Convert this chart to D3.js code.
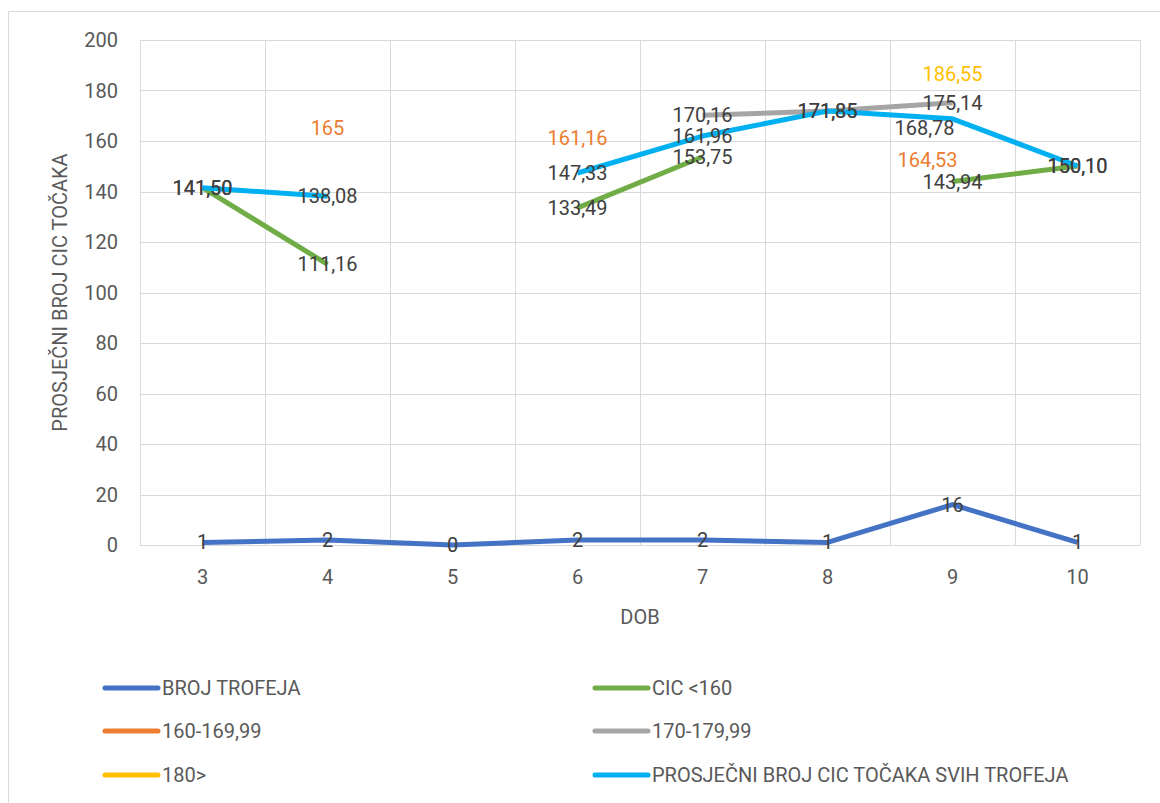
<!DOCTYPE html>
<html>
<head>
<meta charset="utf-8">
<script src="https://cdn.jsdelivr.net/npm/d3@7"></script>
<style>
  html, body { margin: 0; padding: 0; background: #fff; }
  svg { display: block; }
  text { font-family: "Roboto", "Liberation Sans", sans-serif; }
</style>
</head>
<body>
<svg id="chart" width="1160" height="803"></svg>
<script>
// ---- data ----
const categories = ["3", "4", "5", "6", "7", "8", "9", "10"];
const brojTrofeja = [1, 2, 0, 2, 2, 1, 16, 1];
const cicUnder160 = [141.50, 111.16, null, 133.49, 153.75, null, 143.94, 150.10];
const cic160to169 = [null, 165, null, 161.16, null, null, 164.53, null];
const cic170to179 = [null, null, null, null, 170.16, 171.85, 175.14, null];
const cic180plus = [null, null, null, null, null, null, 186.55, null];
const prosjecni = [141.50, 138.08, null, 147.33, 161.96, 171.85, 168.78, 150.10];
const yTicks = [0, 20, 40, 60, 80, 100, 120, 140, 160, 180, 200];

const series = [
  { name: "BROJ TROFEJA", values: brojTrofeja, color: "#4472C4", labelColor: "#404040" },
  { name: "CIC <160", values: cicUnder160, color: "#70AD47", labelColor: "#404040" },
  { name: "160-169,99", values: cic160to169, color: "#ED7D31", labelColor: "#ED7D31" },
  { name: "170-179,99", values: cic170to179, color: "#A5A5A5", labelColor: "#404040" },
  { name: "180>", values: cic180plus, color: "#FFC000", labelColor: "#FFC000" },
  { name: "PROSJEČNI BROJ CIC TOČAKA SVIH TROFEJA", values: prosjecni, color: "#00B0F0", labelColor: "#404040" }
];
// manual label nudges (series index, category index) -> [dx, dy]
const labelNudge = { "5_6": [-28, 9], "2_6": [-25, 30] };

const FS = 20;
const svg = d3.select("#chart");
const margin = { left: 140, right: 20, top: 40, bottom: 258 };
const W = 1160, H = 803;

// outer frame
svg.append("path")
  .attr("d", `M8.5,803 V11.5 H1160`)
  .attr("fill", "none").attr("stroke", "#D9D9D9").attr("stroke-width", 1);

const x = d3.scaleBand().domain(categories).range([margin.left, W - margin.right]);
const y = d3.scaleLinear().domain([0, 200]).range([H - margin.bottom, margin.top]);

const g = svg.append("g");
// horizontal gridlines
g.selectAll(".hg").data(yTicks).join("line")
  .attr("x1", margin.left).attr("x2", W - margin.right)
  .attr("y1", d => Math.round(y(d)) + 0.5).attr("y2", d => Math.round(y(d)) + 0.5)
  .attr("stroke", "#D9D9D9").attr("stroke-width", 1);
// vertical gridlines at band boundaries
const bounds = categories.map(c => x(c)).concat([x(categories[categories.length - 1]) + x.bandwidth()]);
g.selectAll(".vg").data(bounds).join("line")
  .attr("x1", d => Math.round(d) + 0.5).attr("x2", d => Math.round(d) + 0.5)
  .attr("y1", margin.top).attr("y2", H - margin.bottom)
  .attr("stroke", "#D9D9D9").attr("stroke-width", 1);

// y tick labels
g.selectAll(".yt").data(yTicks).join("text")
  .attr("x", margin.left - 22).attr("y", d => y(d))
  .attr("text-anchor", "end").attr("dominant-baseline", "central")
  .attr("font-size", FS).attr("fill", "#595959").text(d => d);

// x tick labels
g.selectAll(".xt").data(categories).join("text")
  .attr("x", d => x(d) + x.bandwidth() / 2).attr("y", H - margin.bottom + 32)
  .attr("text-anchor", "middle").attr("dominant-baseline", "central")
  .attr("font-size", FS).attr("fill", "#595959").text(d => d);

// axis titles
svg.append("text").attr("x", (margin.left + W - margin.right) / 2).attr("y", 617)
  .attr("text-anchor", "middle").attr("dominant-baseline", "central")
  .attr("font-size", FS).attr("fill", "#595959").text("DOB");
svg.append("text").attr("transform", `translate(60,${(margin.top + H - margin.bottom) / 2}) rotate(-90)`)
  .attr("text-anchor", "middle").attr("dominant-baseline", "central")
  .attr("font-size", FS).attr("fill", "#595959").text("PROSJEČNI BROJ CIC TOČAKA");

const cx = c => x(c) + x.bandwidth() / 2;
const line = d3.line().defined(d => d.v !== null).x(d => cx(d.c)).y(d => y(d.v));

series.forEach((s, si) => {
  const pts = categories.map((c, i) => ({ c, v: s.values[i], i }));
  svg.append("path").datum(pts)
    .attr("d", line).attr("fill", "none")
    .attr("stroke", s.color).attr("stroke-width", 5)
    .attr("stroke-linejoin", "round").attr("stroke-linecap", "butt");
});

const fmt = v => Number.isInteger(v) ? String(v) : v.toFixed(2).replace(".", ",");
series.forEach((s, si) => {
  const pts = categories.map((c, i) => ({ c, v: s.values[i], i })).filter(d => d.v !== null);
  svg.selectAll(null).data(pts).join("text")
    .attr("x", d => cx(d.c) + ((labelNudge[si + "_" + d.i] || [0, 0])[0]))
    .attr("y", d => y(d.v) + ((labelNudge[si + "_" + d.i] || [0, 0])[1]))
    .attr("text-anchor", "middle").attr("dominant-baseline", "central")
    .attr("font-size", FS).attr("fill", s.labelColor)
    .text(d => fmt(d.v));
});

// legend
const legX = [105, 595], legY = [688, 731, 775];
series.forEach((s, i) => {
  const lx = legX[i % 2], ly = legY[Math.floor(i / 2)];
  svg.append("line").attr("x1", lx).attr("x2", lx + 53).attr("y1", ly).attr("y2", ly)
    .attr("stroke", s.color).attr("stroke-width", 5).attr("stroke-linecap", "round");
  svg.append("text").attr("x", lx + 57).attr("y", ly)
    .attr("dominant-baseline", "central").attr("font-size", FS).attr("fill", "#595959")
    .text(s.name);
});
</script>
</body>
</html>
